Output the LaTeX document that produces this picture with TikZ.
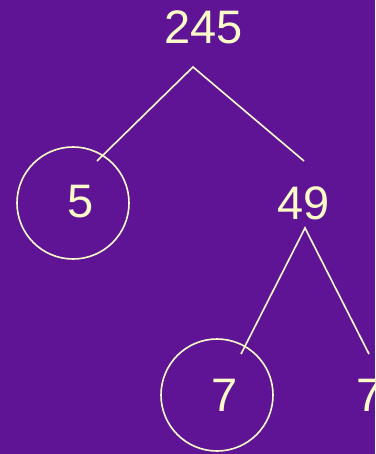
\documentclass[tikz,border=0pt]{standalone}
\usepackage{fontspec}
\setmainfont{Liberation Sans}
\definecolor{bg}{HTML}{5F1496}
\definecolor{fg}{HTML}{FFFBC8}
\begin{document}
\begin{tikzpicture}[x=1pt,y=-1pt,
  num/.style={text=fg,font=\fontsize{47}{47}\selectfont,inner sep=0pt,anchor=center},
  ring/.style={draw=fg,line width=1.6pt,circle,minimum size=112pt,inner sep=0pt},
  edge/.style={draw=fg,line width=1.6pt}]
\useasboundingbox (0,0) rectangle (375,454);
\clip (0,0) rectangle (375,454);
\fill[bg] (0,0) rectangle (375,454);
\node[num] (n245) at (203.5,27) {245};
\node[ring] (c5) at (73,203) {};
\node[num] (n5) at (81,202) {5};
\node[num] (n49) at (303.5,203) {49};
\node[ring] (c7) at (217,395) {};
\node[num] (n7a) at (225,395) {7};
\node[num] (n7b) at (370,395) {7};
\coordinate (a1) at (193,67);
\coordinate (l1) at (97,161);
\coordinate (r1) at (304,161);
\coordinate (a2) at (305,228);
\coordinate (l2) at (241,354);
\coordinate (r2) at (369,354);
\draw[edge] (l1) -- (a1) -- (r1);
\draw[edge] (l2) -- (a2) -- (r2);
\end{tikzpicture}
\end{document}
